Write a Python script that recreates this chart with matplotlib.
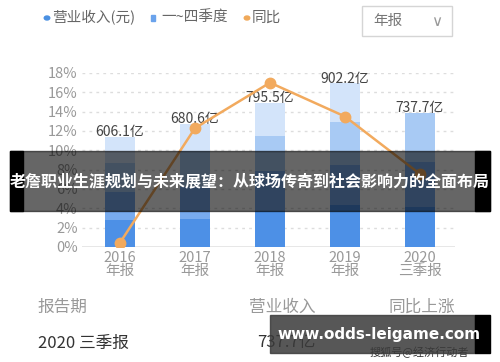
import matplotlib
matplotlib.use("Agg")
import matplotlib.pyplot as plt
from matplotlib.patches import Rectangle, Circle
import numpy as np

plt.rcParams['font.family'] = ['Noto Sans CJK SC', 'DejaVu Sans']

# ---------------- data ----------------
years = ['2016\n年报', '2017\n年报', '2018\n年报', '2019\n年报', '2020\n三季报']
revenue_total = [606.1, 680.6, 795.5, 902.2, 737.7]      # 亿
# cumulative quarterly revenue (Q1, Q1-Q2, Q1-Q3), read off the bar bands
q1_cum = [149, 154, 200, 232, 220]
q2_cum = [303, 330, 420, 452, 470]
q3_cum = [463, 529, 612, 690, 737.7]
yoy = [0.45, 12.3, 17.0, 13.5, 7.55]                     # 同比 %
yticks = [0, 2, 4, 6, 8, 10, 12, 14, 16, 18]

q_colors = ['#4d90e6', '#78abee', '#a8caf4', '#d3e4fa']

fig = plt.figure(figsize=(5, 3.62), dpi=100)
ax = fig.add_axes([82/500, 115/362, 373/500, 174/362])
ax2 = ax.twinx()

x = np.arange(len(years))
w = 0.4

# stacked quarter bars (drawn on hidden revenue axis)
ax2.bar(x, q1_cum, w, color=q_colors[0], zorder=2)
ax2.bar(x, np.array(q2_cum) - np.array(q1_cum), w, bottom=q1_cum, color=q_colors[1], zorder=2)
ax2.bar(x, np.array(q3_cum) - np.array(q2_cum), w, bottom=q2_cum, color=q_colors[2], zorder=2)
ax2.bar(x, np.array(revenue_total) - np.array(q3_cum), w, bottom=q3_cum, color=q_colors[3], zorder=2)
for i, v in enumerate(revenue_total):
    ax2.text(x[i], v + 27, '%.1f亿' % v, ha='center', va='center', fontsize=10, color='#444444')
ax2.set_ylim(0, 960)
ax2.axis('off')

# yoy line
line_ax = ax2.twinx()
line_ax.set_ylim(0, 18)
line_ax.axis('off')
line_ax.plot(x, yoy, color='#f2aa5e', lw=1.8, marker='o', ms=7.5, zorder=5)

# grid + ticks on left axis
ax.set_xlim(-0.507, 4.467)
ax.set_ylim(0, 18)
for t in yticks[1:]:
    ax.axhline(t, color='#dddddd', lw=1, ls=(0, (2, 3)), zorder=0)
ax.axhline(0, color='#e3e3e3', lw=1.2, zorder=0)
ax.set_yticks(yticks)
ax.set_yticklabels(['%d%%' % t for t in yticks], fontsize=10.5, color='#999999')
ax.set_xticks(x)
ax.set_xticklabels(years, fontsize=10.5, color='#999999', linespacing=0.9)
ax.tick_params(length=0, pad=3)
for s in ax.spines.values():
    s.set_visible(False)

# ---------------- legend / header ----------------
def px(xp, yp):
    return xp / 500, 1 - yp / 362

fig.patches.append(Circle(px(47, 18), 0.0055, color='#4a90e2', transform=fig.transFigure))
fig.text(*px(52, 18), '营业收入(元)', fontsize=10.5, color='#666666', va='center')
fig.patches.append(Rectangle(px(151, 21), 0.008, 0.016, color='#6aa3ec', transform=fig.transFigure))
fig.text(*px(161, 18), '一~四季度', fontsize=10.5, color='#666666', va='center')
fig.patches.append(Circle(px(247, 18), 0.0055, color='#f0a95a', transform=fig.transFigure))
fig.text(*px(252, 18), '同比', fontsize=10.5, color='#666666', va='center')

fig.patches.append(Rectangle(px(362, 36), 90/500, 30/362, fill=False, ec='#d5d5d5', lw=1,
                             transform=fig.transFigure))
fig.text(*px(373, 21), '年报', fontsize=10.5, color='#777777', va='center')
fig.text(*px(437, 21), '∨', fontsize=11, color='#999999', va='center', ha='center', family='DejaVu Sans')

# ---------------- bottom table ----------------
fig.text(*px(38, 307), '报告期', fontsize=12, color='#999999', va='center')
fig.text(*px(249, 307), '营业收入', fontsize=12, color='#999999', va='center')
fig.text(*px(388, 307), '同比上涨', fontsize=12, color='#999999', va='center')
fig.text(*px(38, 343), '2020 三季报', fontsize=12, color='#333333', va='center')
fig.text(*px(257, 343), '737.7亿', fontsize=12, color='#333333', va='center')
fig.text(*px(370, 352), '搜狐号@经济行动者', fontsize=8, color='#333333', va='center')

# ---------------- overlays ----------------
fig.patches.append(Rectangle(px(10, 211), 480/500, 60/362, color='black', alpha=0.6,
                             transform=fig.transFigure, zorder=10))
fig.patches.append(Rectangle(px(10, 211), 13/500, 60/362, color='black',
                             transform=fig.transFigure, zorder=11))
fig.patches.append(Rectangle(px(475, 211), 15/500, 60/362, color='black',
                             transform=fig.transFigure, zorder=11))
fig.text(*px(250, 181), '老詹职业生涯规划与未来展望：从球场传奇到社会影响力的全面布局',
         fontsize=11.5, weight='bold', color='white', ha='center', va='center', zorder=12)

fig.patches.append(Rectangle(px(270, 353), 205/500, 38/362, color='#3a3a3a', alpha=0.85,
                             transform=fig.transFigure, zorder=10))
fig.patches.append(Rectangle(px(475, 353), 15/500, 38/362, color='black',
                             transform=fig.transFigure, zorder=11))
fig.text(*px(379, 335), 'www.odds-leigame.com', fontsize=11, weight='bold', color='white',
         ha='center', va='center', family='DejaVu Sans', zorder=12)

fig.savefig('out.png', dpi=100)
